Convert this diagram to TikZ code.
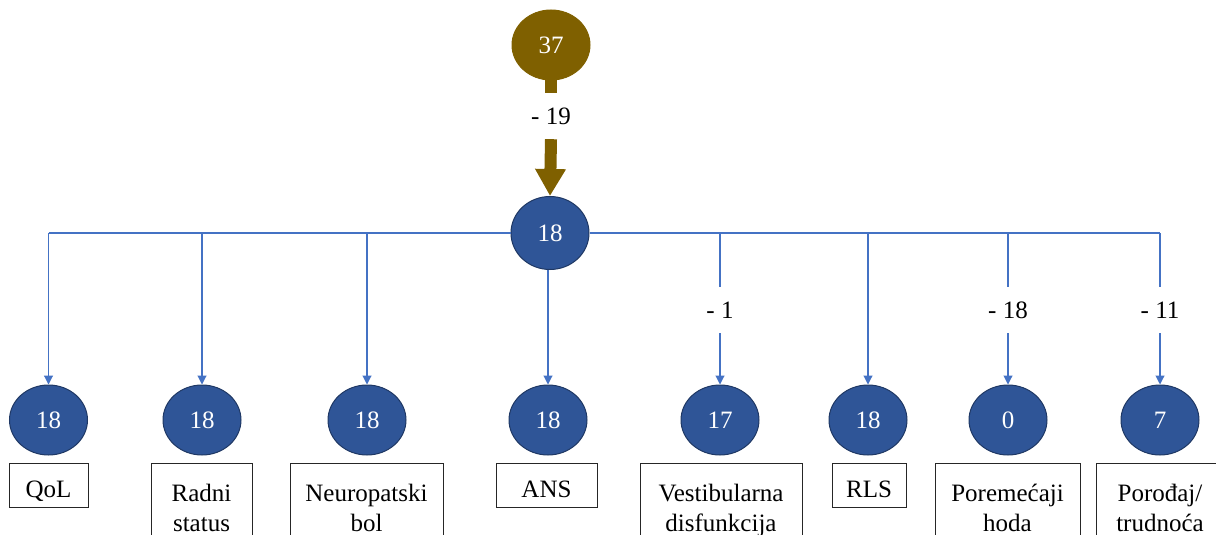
\documentclass[tikz,border=0pt]{standalone}
\usepackage{fontspec}
\setmainfont{Liberation Serif}
\usetikzlibrary{shapes.geometric,arrows.meta}
\definecolor{brn}{HTML}{7F6000}
\definecolor{nblue}{HTML}{2F5597}
\definecolor{nbord}{HTML}{1F3864}
\definecolor{lblue}{HTML}{4472C4}
\begin{document}
\begin{tikzpicture}[x=1pt,y=-1pt,
  every node/.style={font=\fontsize{25}{30}\selectfont},
  bub/.style={ellipse, fill=nblue, draw=nbord, line width=1pt, text=white,
    minimum width=78pt, minimum height=70pt, inner sep=0pt},
  topbub/.style={bub, fill=brn, draw=brn},
  dlab/.style={minimum height=46pt, inner sep=0pt},
  conn/.style={draw=lblue, line width=1.1pt},
  carrow/.style={conn, -{Triangle[width=9pt,length=9pt]}},
  onebox/.style={draw=black!85, line width=1pt, anchor=north, inner xsep=0pt,
    inner ysep=10pt, text height=24pt, text depth=0pt},
  twobox/.style={draw=black!85, line width=1pt, anchor=north, inner xsep=0pt,
    inner ysep=21pt, align=center}
]
\useasboundingbox (0,0) rectangle (1216,535);

% top
\node[topbub] (n37) at (551,45) {37};
\node[bub, minimum height=73pt] (n18) at (550,233) {18};
\node[dlab] (l19) at (551,116) {- 19};
\draw[brn, line width=12pt] (n37.south) -- (l19.north);
\draw[brn, line width=12pt, -{Triangle[width=29pt,length=27pt]}] (l19.south) -- (n18.north);

% children
\node[bub] (c1) at (48.5,420) {18};
\node[bub] (c2) at (202,420) {18};
\node[bub] (c3) at (367,420) {18};
\node[bub] (c4) at (548,420) {18};
\node[bub] (c5) at (720,420) {17};
\node[bub] (c6) at (868,420) {18};
\node[bub] (c7) at (1008,420) {0};
\node[bub] (c8) at (1160,420) {7};

% step labels
\node[dlab] (d5) at (720,310) {- 1};
\node[dlab] (d7) at (1008,310) {- 18};
\node[dlab] (d8) at (1160,310) {- 11};

% horizontal bar
\draw[conn] (c1 |- n18) -- (n18.west);
\draw[conn] (n18.east) -- (c8 |- n18);

% connectors
\draw[carrow] (c1 |- n18) -- (c1.north);
\draw[carrow] (c2 |- n18) -- (c2.north);
\draw[carrow] (c3 |- n18) -- (c3.north);
\draw[carrow] (c4 |- n18.south) -- (c4.north);
\draw[conn] (c5 |- n18) -- (d5.north);
\draw[carrow] (d5.south) -- (c5.north);
\draw[carrow] (c6 |- n18) -- (c6.north);
\draw[conn] (c7 |- n18) -- (d7.north);
\draw[carrow] (d7.south) -- (c7.north);
\draw[conn] (c8 |- n18) -- (d8.north);
\draw[carrow] (d8.south) -- (c8.north);

% boxes
\node[onebox, minimum width=79pt] (b1) at (48.5,463) {QoL};
\node[twobox, minimum width=101pt] (b2) at (201.5,463) {Radni\\status};
\node[twobox, minimum width=153pt] (b3) at (366.5,463) {Neuropatski\\bol};
\node[onebox, minimum width=101pt] (b4) at (546.5,463) {ANS};
\node[twobox, minimum width=162pt] (b5) at (721,463) {Vestibularna\\disfunkcija};
\node[onebox, minimum width=74pt] (b6) at (869,463) {RLS};
\node[twobox, minimum width=145pt] (b7) at (1007.5,463) {Poremećaji\\hoda};
\node[twobox, minimum width=128pt] (b8) at (1160,463) {Porođaj/\\trudnoća};
\end{tikzpicture}
\end{document}
